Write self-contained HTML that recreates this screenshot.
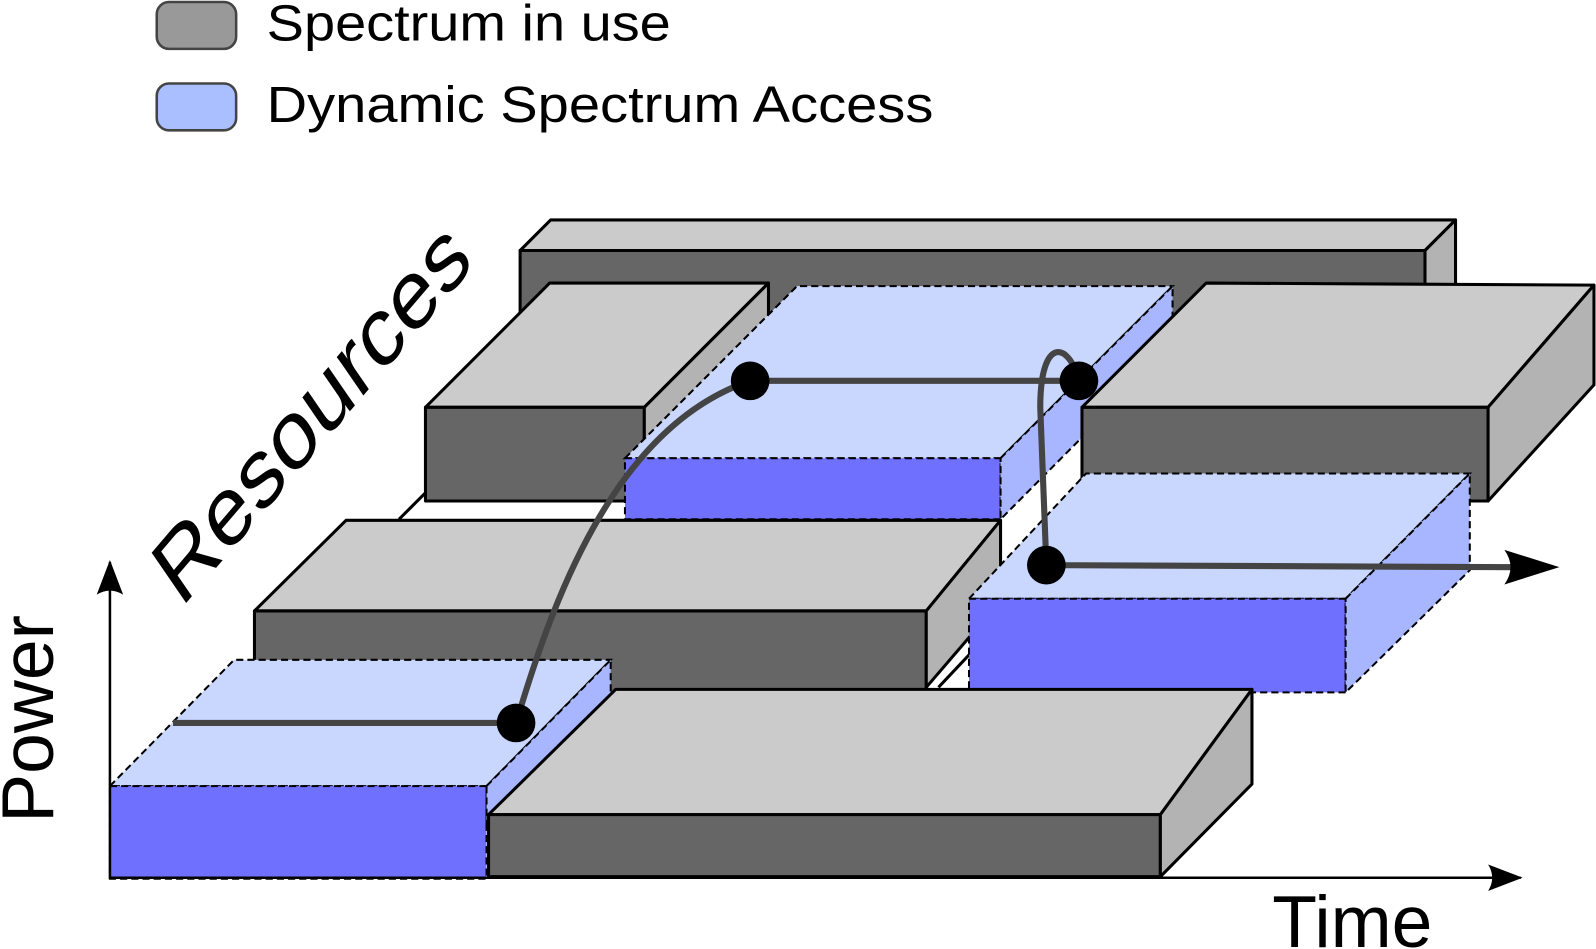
<!DOCTYPE html>
<html><head><meta charset="utf-8"><style>html,body{margin:0;padding:0;background:#fff}svg{display:block}</style></head>
<body>
<svg width="1596" height="949" viewBox="0 0 1568 932" preserveAspectRatio="none" xmlns="http://www.w3.org/2000/svg" font-family="Liberation Sans, sans-serif">
<defs>
<marker id="ah" markerWidth="34" markerHeight="26" refX="32" refY="13" orient="auto" markerUnits="userSpaceOnUse" viewBox="0 0 34 26"><path d="M0,0 L34,13 L0,26 Q8,13 0,0 Z" fill="#000"/></marker>
</defs>
<!-- legend -->
<rect x="154" y="2" width="78" height="46" rx="12" fill="#999" stroke="#444" stroke-width="2.5"/>
<text x="262" y="40" font-size="50" textLength="397" lengthAdjust="spacingAndGlyphs">Spectrum in use</text>
<rect x="154" y="82" width="78" height="46" rx="12" fill="#aabfff" stroke="#444" stroke-width="2.5"/>
<text x="262" y="120" font-size="50" textLength="655" lengthAdjust="spacingAndGlyphs">Dynamic Spectrum Access</text>

<g stroke="#000" stroke-width="3" stroke-linejoin="round">
<polygon points="511,246 541,216 1430,216 1400,246" fill="#cbcbcb"/>
<rect x="511" y="246" width="889" height="64" fill="#666"/>
<polygon points="1400,246 1430,216 1430,280 1400,310" fill="#b3b3b3"/>
<line x1="392" y1="510" x2="418" y2="484"/>
<polygon points="418,400 540,278 755,278 633,400" fill="#cbcbcb"/>
<rect x="418" y="400" width="215" height="92" fill="#666"/>
<polygon points="633,400 755,278 755,370 633,492" fill="#b3b3b3"/>
</g>
<g stroke="#000" stroke-width="2" stroke-dasharray="7,4">
<polygon points="614,450 783,281 1152,281 983,450" fill="#c9d7ff"/>
<rect x="614" y="450" width="369" height="60" fill="#7070ff"/>
<polygon points="983,450 1152,281 1152,340 983,510" fill="#a8b6ff"/>
</g>
<g stroke="#000" stroke-width="3" stroke-linejoin="round">
<polygon points="250,600 340,511 983,511 910,600" fill="#cbcbcb"/>
<rect x="250" y="600" width="660" height="90" fill="#666"/>
<polygon points="910,600 983,511 983,590 910,675" fill="#b3b3b3"/>
<line x1="922" y1="675" x2="955" y2="640"/>
<polygon points="1063,400 1185,278 1566,280 1462,400" fill="#cbcbcb"/>
<rect x="1063" y="400" width="399" height="92" fill="#666"/>
<polygon points="1462,400 1566,280 1566,378 1462,492" fill="#b3b3b3"/>
</g>
<g stroke="#000" stroke-width="2" stroke-dasharray="7,4">
<polygon points="952,588 1067,465 1444,465 1322,588" fill="#c9d7ff"/>
<rect x="952" y="588" width="370" height="92" fill="#7070ff"/>
<polygon points="1322,588 1444,465 1444,560 1322,680" fill="#a8b6ff"/>
<polygon points="108,772 230,648 600,648 478,772" fill="#c9d7ff"/>
<rect x="108" y="772" width="370" height="91" fill="#7070ff"/>
<polygon points="478,772 600,648 600,690 478,810" fill="#a8b6ff"/>
</g>
<g stroke="#000" stroke-width="3" stroke-linejoin="round">
<polygon points="480,800 605,677 1230,677 1140,800" fill="#cbcbcb"/>
<rect x="480" y="800" width="660" height="61" fill="#666"/>
<polygon points="1140,800 1230,677 1230,770 1140,861" fill="#b3b3b3"/>
</g>
<!-- axes -->
<line x1="108" y1="863" x2="108" y2="552" stroke="#000" stroke-width="2.5" marker-end="url(#ah)"/>
<line x1="108" y1="862" x2="1494" y2="862" stroke="#000" stroke-width="2.5" marker-end="url(#ah)"/>
<g fill="none" stroke="#444" stroke-width="6">
<path d="M170,710 L507,710 C540,600 600,420 737,374 L1060,374 C1050,335 1022,330 1022,400 L1028,555 L1490,557"/>
</g>
<path d="M1532,557 L1478,540 Q1490,557 1478,574 Z" fill="#000"/>
<g fill="#000">
<circle cx="507" cy="710" r="19"/><circle cx="737" cy="374" r="19"/><circle cx="1060" cy="374" r="19"/><circle cx="1028" cy="555" r="19"/>
</g>
<text x="0" y="0" font-size="72" transform="translate(52,808) rotate(-90)">Power</text>
<text x="1250" y="930" font-size="72">Time</text>
<text x="0" y="0" font-size="84" transform="translate(178,598) rotate(-49.5) skewX(-15)" textLength="445" lengthAdjust="spacingAndGlyphs">Resources</text>
</svg>
</body></html>
